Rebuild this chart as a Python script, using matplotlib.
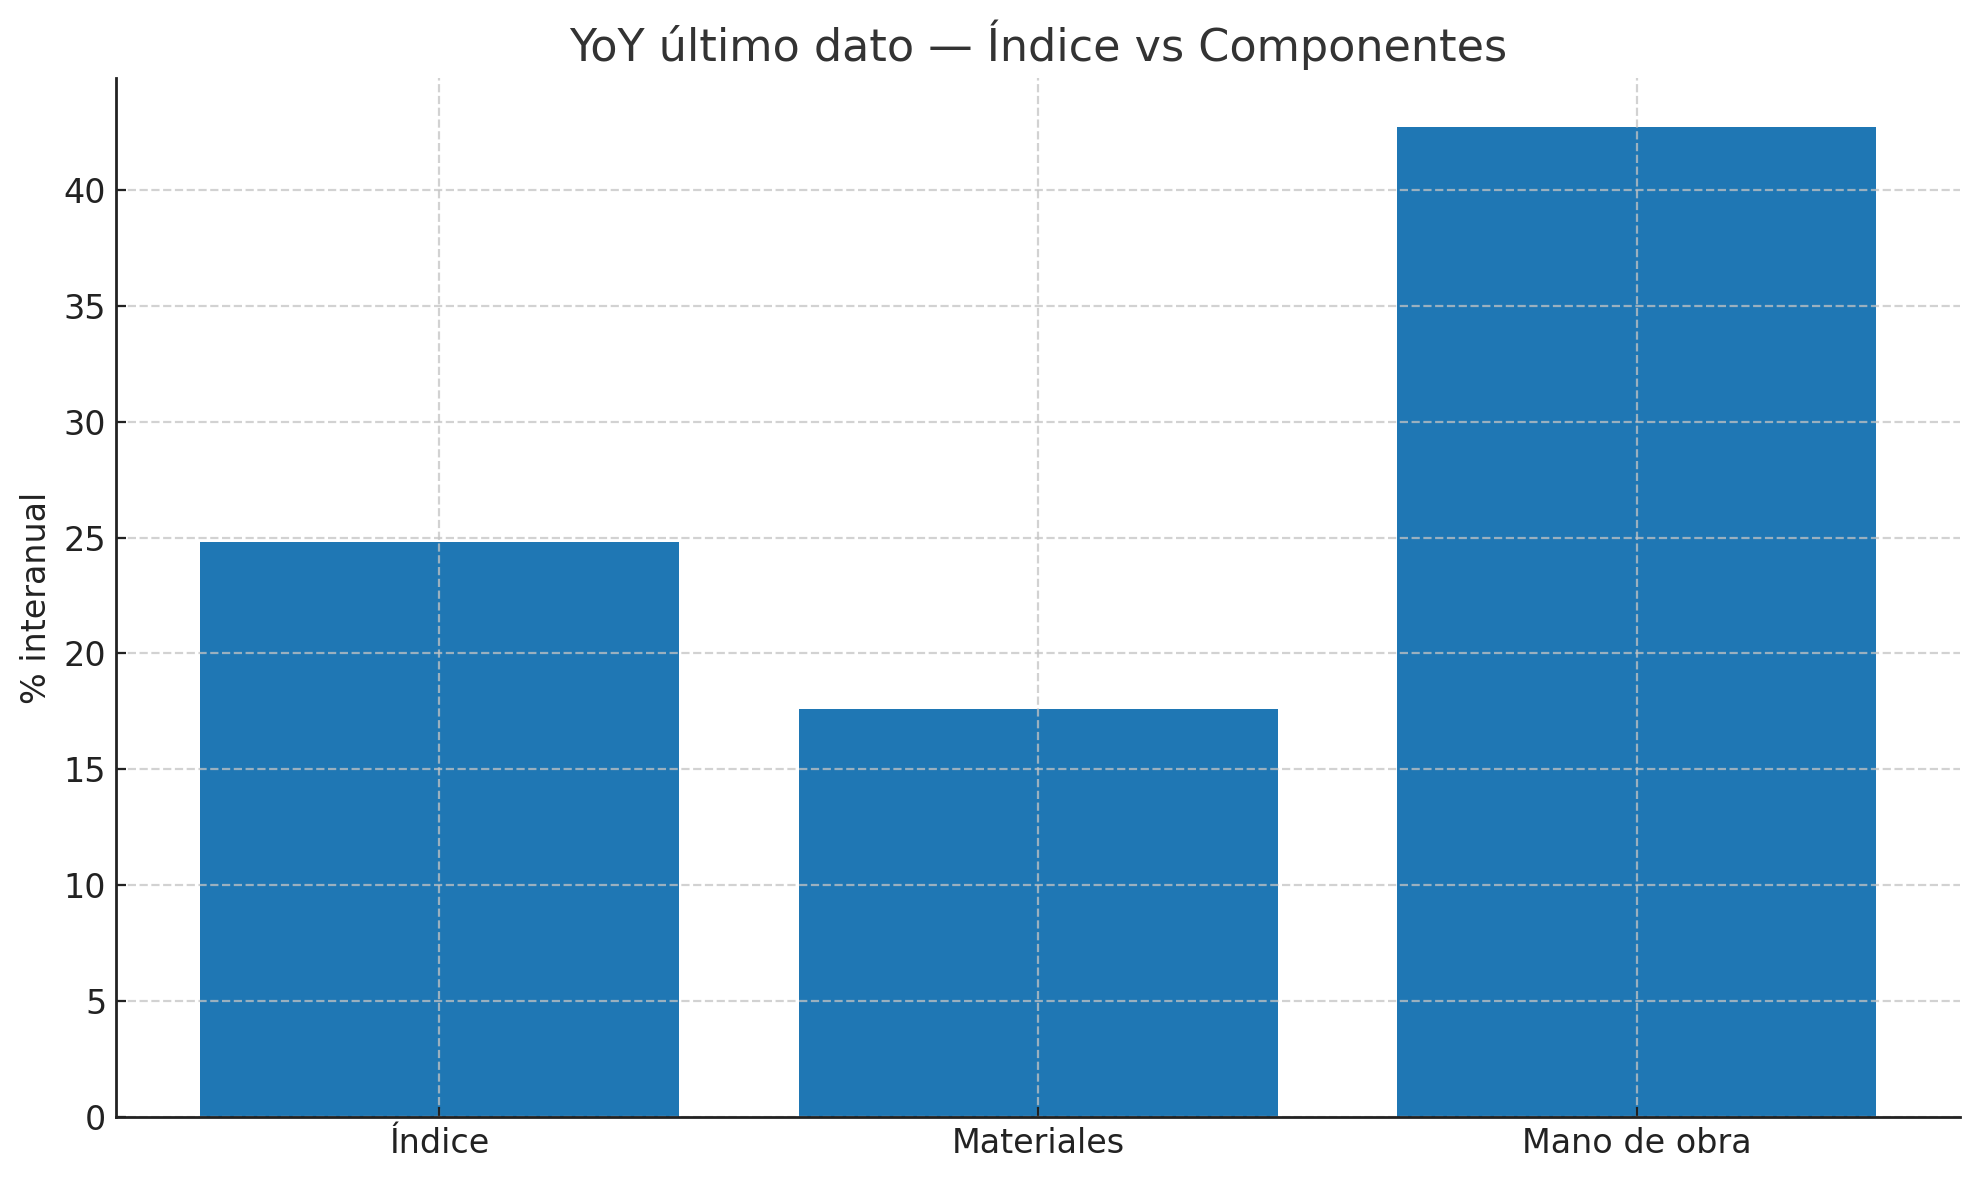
import matplotlib
matplotlib.use("Agg")
import matplotlib.pyplot as plt
import numpy as np

# data
categorias = ["Índice", "Materiales", "Mano de obra"]
yoy = [24.8, 17.6, 42.7]

plt.rcParams['font.family'] = ['DejaVu Sans']

fig, ax = plt.subplots(figsize=(9.895, 5.9), dpi=200)
fig.subplots_adjust(left=0.0586, right=0.9905, bottom=0.0534, top=0.934)

x = np.arange(len(categorias))
ax.bar(x, yoy, width=0.8, color="#1f77b4")
ax.set_xticks(x)
ax.set_xticklabels(categorias)

ax.set_title("YoY último dato — Índice vs Componentes", fontsize=16, color="#333333")
ax.set_ylabel("% interanual", fontsize=12, color="#222222")
ax.tick_params(labelsize=12, colors="#222222", direction="in", pad=3.5)

ax.grid(True, linestyle="--", color="#c4c4c4", alpha=0.75, linewidth=0.8)
ax.set_axisbelow(False)
for s in ["top", "right"]:
    ax.spines[s].set_visible(False)
for s in ["left", "bottom"]:
    ax.spines[s].set_color("#222222")
    ax.spines[s].set_linewidth(1.0)
    ax.spines[s].set_zorder(3)

fig.savefig("out.png", dpi=200)
